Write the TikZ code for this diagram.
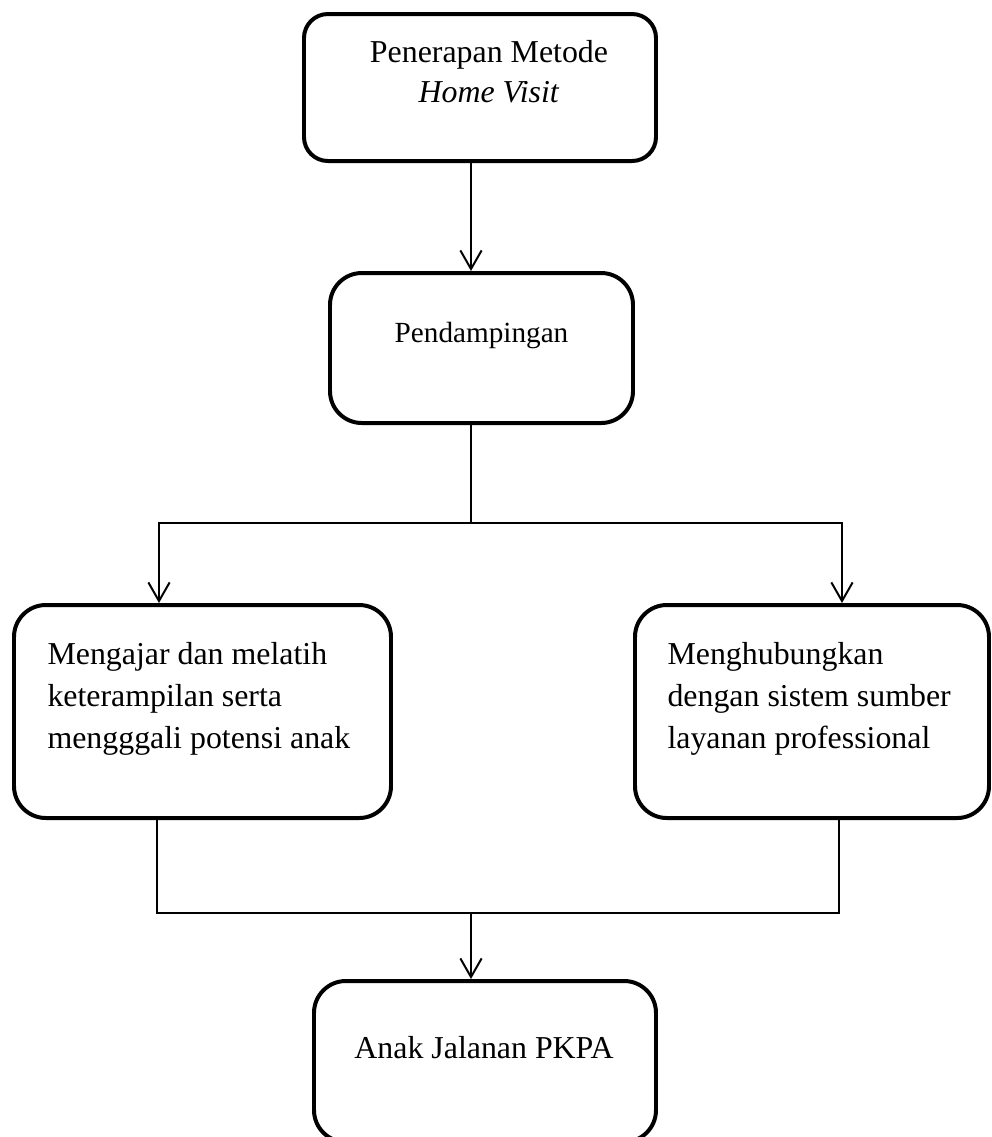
\documentclass[tikz,border=0pt]{standalone}
\usepackage{fontspec}
\setmainfont{Liberation Serif}
\usetikzlibrary{arrows.meta,positioning}
\newcommand{\pxu}{0.3765pt}

\begin{document}
\begin{tikzpicture}[x=\pxu,y=-\pxu]
	\tikzset{
		box/.style={draw=black, line width=1.5pt, rounded corners=12pt, inner sep=0pt},
		txt/.style={font=\fontsize{12}{15.8}\selectfont, inner sep=0pt},
		line/.style={draw=black, line width=0.75pt},
		arr/.style={line, -{Straight Barb[length=7pt, width=8pt]}}
	}
	\useasboundingbox (0,0) rectangle (992,1137);

	% TOP: METHOD
	\node[box, rounded corners=9pt, minimum width=352*\pxu, minimum height=147*\pxu] (visit) at (480,87.5) {};
	\node[txt, anchor=base, align=center, font=\fontsize{12}{15}\selectfont] (visittxt) at (489,102) {Penerapan Metode\\\textit{Home Visit}};

	% MIDDLE: ASSISTANCE
	\node[box, minimum width=303*\pxu, minimum height=150*\pxu] (damping) at (481.5,348) {};
	\node[txt, anchor=base, font=\fontsize{11}{14}\selectfont] (dampingtxt) at (481.5,342) {Pendampingan};

	% LEFT AND RIGHT: ACTIVITIES
	\node[box, minimum width=377*\pxu, minimum height=213*\pxu] (ajar) at (202.5,711.5) {};
	\node[txt, anchor=base west, align=left] (ajartxt) at (47,748) {Mengajar dan melatih\\keterampilan serta\\mengggali potensi anak};

	\node[box, minimum width=354*\pxu, minimum height=213*\pxu] (hubung) at (812,711.5) {};
	\node[txt, anchor=base west, align=left] (hubungtxt) at (667,748) {Menghubungkan\\dengan sistem sumber\\layanan professional};

	% BOTTOM: TARGET (cut off by the page edge)
	\node[box, minimum width=342*\pxu, minimum height=161*\pxu] (anak) at (485,1061.5) {};
	\node[txt, anchor=base] (anaktxt) at (484,1058) {Anak Jalanan PKPA};

	% Connectors
	\coordinate (spine) at (471,0);
	\coordinate (split) at (471,522.7);
	\coordinate (join) at (471,913);
	\coordinate (colL) at (159,0);
	\coordinate (colR) at (842,0);
	\coordinate (colLb) at (157,0);
	\coordinate (colRb) at (839,0);

	\draw[arr] (visit.south -| spine) -- (damping.north -| spine);
	\draw[line] (damping.south -| spine) -- (split);
	\draw[arr] (split) -| (ajar.north -| colL);
	\draw[arr] (split) -| (hubung.north -| colR);
	\draw[line] (ajar.south -| colLb) |- (join) -| (hubung.south -| colRb);
	\draw[arr] (join) -- (anak.north -| join);

\end{tikzpicture}
\end{document}
